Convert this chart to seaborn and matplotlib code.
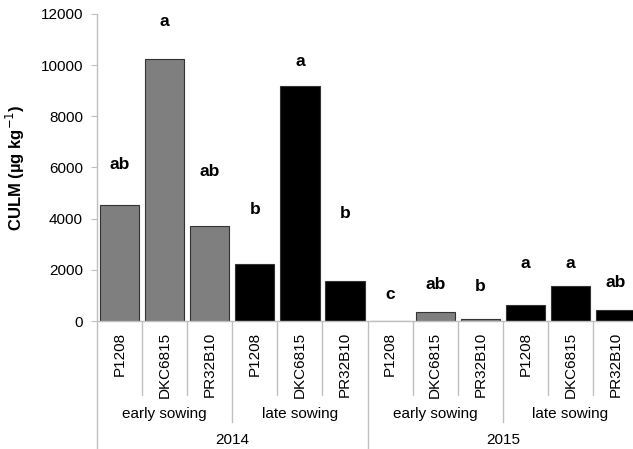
import numpy as np
import pandas as pd
import matplotlib
matplotlib.use("Agg")
import matplotlib.pyplot as plt
import matplotlib.transforms as mtransforms
import seaborn as sns

# data
years = ["2014", "2015"]
sowings = ["early sowing", "late sowing"]
cultivars = ["P1208", "DKC6815", "PR32B10"]
culm_2014_early = [4520, 10240, 3710]
culm_2014_late = [2220, 9190, 1570]
culm_2015_early = [15, 350, 60]
culm_2015_late = [610, 1380, 430]
letters = ["ab", "a", "ab", "b", "a", "b", "c", "ab", "b", "a", "a", "ab"]
letter_heights = [6100, 11700, 5830, 4340, 10140, 4220,
                  1020, 1410, 1330, 2230, 2230, 1490]

rows = []
values = [culm_2014_early, culm_2014_late, culm_2015_early, culm_2015_late]
i = 0
for y in years:
    for s in sowings:
        for c, v in zip(cultivars, values[i]):
            rows.append({"key": f"{y}|{s}|{c}", "year": y, "sowing": s,
                         "cultivar": c, "culm": v})
        i += 1
df = pd.DataFrame(rows)

sns.set_style("white")
plt.rcParams["font.family"] = ["Liberation Sans", "DejaVu Sans"]
plt.rcParams["text.color"] = "black"
plt.rcParams["axes.labelcolor"] = "black"
plt.rcParams["xtick.color"] = "black"
plt.rcParams["ytick.color"] = "black"

fig = plt.figure(figsize=(6.33, 4.49), dpi=100)
ax = fig.add_axes([0.1532, 0.285, 0.855, 0.684])

sns.barplot(data=df, x="key", y="culm", hue="sowing", dodge=False,
            palette={"early sowing": "#7f7f7f", "late sowing": "#000000"},
            width=0.87, edgecolor="#333333", linewidth=0.8, legend=False, ax=ax)

ax.set_xlim(-0.5, len(df) - 0.5)
ax.set_ylim(0, 12000)
ax.set_yticks(np.arange(0, 12001, 2000))
ax.tick_params(axis="y", labelsize=11, length=4, color="#bfbfbf", direction="out",
               left=True, pad=6)
ax.set_ylabel("CULM (µg kg$^{-1}$)", fontsize=12, fontweight="bold", labelpad=10)
ax.set_xlabel("")

ax.set_xticks(range(len(df)))
ax.set_xticklabels(df["cultivar"], rotation=90, fontsize=11, va="top")
ax.tick_params(axis="x", length=0, pad=8)

for side in ["top", "right"]:
    ax.spines[side].set_visible(False)
for side in ["left", "bottom"]:
    ax.spines[side].set_color("#bfbfbf")
    ax.spines[side].set_linewidth(1.0)

# letters above bars
for k, (lab, h) in enumerate(zip(letters, letter_heights)):
    ax.text(k, h, lab, ha="center", va="center", fontsize=12.5, fontweight="bold")

# hierarchical category axis
trans = mtransforms.blended_transform_factory(ax.transData, ax.transAxes)
line_kw = dict(color="#bfbfbf", lw=1.0, transform=trans, clip_on=False)
n = len(df)
for b in range(n + 1):
    x = b - 0.5
    if b % 6 == 0:
        bottom = -0.42
    elif b % 3 == 0:
        bottom = -0.33
    else:
        bottom = -0.24
    ax.plot([x, x], [0, bottom], **line_kw)

for g in range(4):
    ax.text(g * 3 + 1, -0.303, sowings[g % 2], ha="center", va="center",
            fontsize=11, transform=trans)
for g in range(2):
    ax.text(g * 6 + 2.5, -0.388, years[g], ha="center", va="center",
            fontsize=11, transform=trans)

fig.savefig("out.png", dpi=100)
